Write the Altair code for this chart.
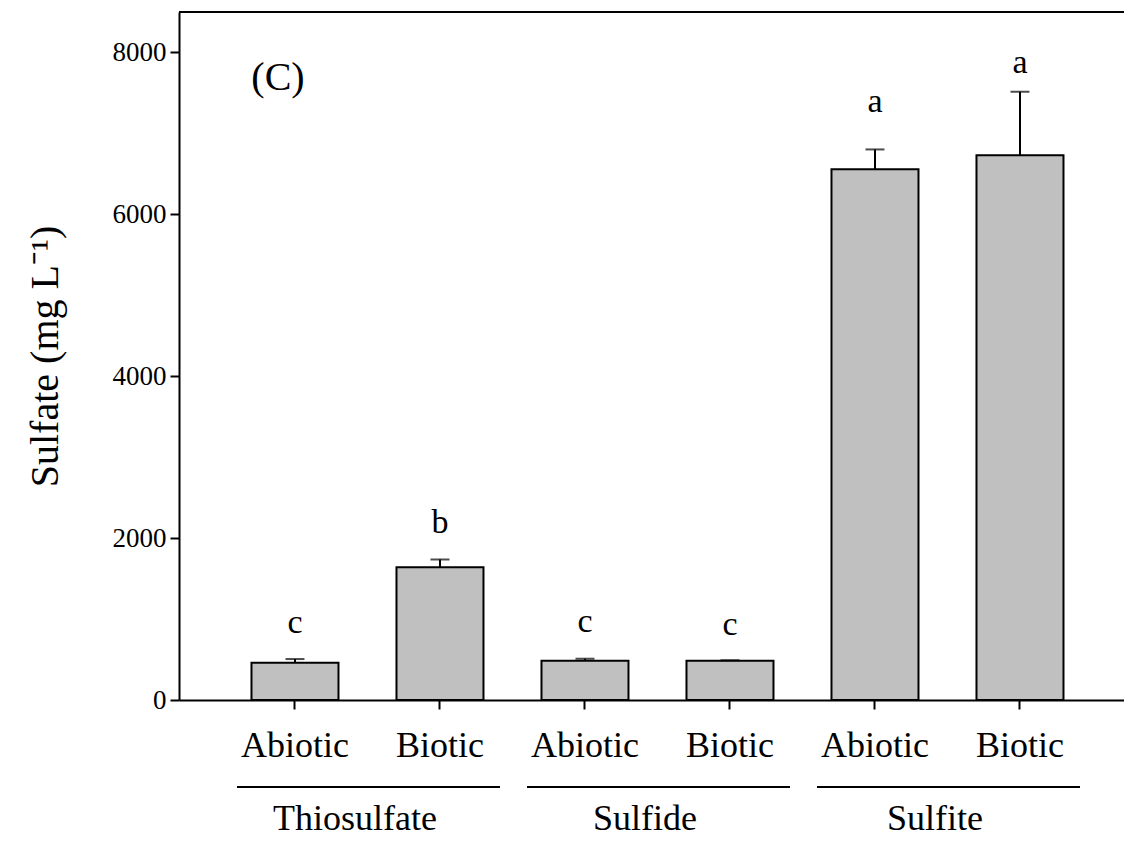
import altair as alt
import pandas as pd

# ---- data ----
groups = ["Thiosulfate", "Thiosulfate", "Sulfide", "Sulfide", "Sulfite", "Sulfite"]
treatments = ["Abiotic", "Biotic", "Abiotic", "Biotic", "Abiotic", "Biotic"]
means = [460, 1640, 485, 485, 6556, 6730]
errors = [46, 97, 25, 6, 246, 785]
letters = ["c", "b", "c", "c", "a", "a"]
letter_pos = [827, 2062, 840, 802, 7259, 7741]
group_names = ["Thiosulfate", "Sulfide", "Sulfite"]
y_ticks = [0, 2000, 4000, 6000, 8000]
panel_label = ["(C)"]

FONT = "Liberation Serif"
W, H = 945, 688

keys = [f"{g}|{t}" for g, t in zip(groups, treatments)]
df = pd.DataFrame({
    "key": keys, "group": groups, "treatment": treatments,
    "mean": means, "err": errors, "letter": letters, "letter_y": letter_pos,
})
df["top"] = df["mean"] + df["err"]

gdf = pd.DataFrame({
    "group": group_names,
    "k1": [f"{g}|Abiotic" for g in group_names],
    "k2": [f"{g}|Biotic" for g in group_names],
})

xscale = alt.Scale(domain=keys, paddingInner=0.4, paddingOuter=0.4586, align=0.545)
yscale = alt.Scale(domain=[0, 8500], nice=False)

xenc = alt.X("key:N", scale=xscale, sort=keys,
             axis=alt.Axis(title=None, labelExpr="split(datum.label,'|')[1]",
                           labelAngle=0, labelFontSize=36, labelFont=FONT,
                           labelColor="black", labelPadding=19, tickSize=9,
                           tickWidth=2, domainWidth=2, labelBaseline="top"))
yenc = alt.Y("mean:Q", scale=yscale,
             axis=alt.Axis(values=y_ticks, format="d", title="Sulfate (mg L\u207b\u00b9)",
                           titleFont=FONT, titleFontSize=40, titleFontWeight="normal",
                           titleColor="black", titleX=-134, titleY=H / 2,
                           titleAlign="center", titleBaseline="middle", titleAngle=-90,
                           labelFont=FONT, labelFontSize=27, labelColor="black",
                           labelPadding=4, tickSize=9, tickWidth=2, domainWidth=2,
                           grid=False))

base = alt.Chart(df)

bars = base.mark_bar(fill="#c0c0c0", stroke="black", strokeWidth=2).encode(x=xenc, y=yenc)

err_rule = base.mark_rule(color="black", strokeWidth=2).encode(
    x=alt.X("key:N", sort=keys), y=alt.Y("mean:Q"), y2="top:Q")

err_cap = base.mark_tick(color="black", thickness=2, size=19).encode(
    x=alt.X("key:N", sort=keys), y=alt.Y("top:Q"))

letter_text = base.mark_text(font=FONT, fontSize=34, color="black",
                             baseline="alphabetic", align="center").encode(
    x=alt.X("key:N", sort=keys), y=alt.Y("letter_y:Q"), text="letter:N")

group_rules = alt.Chart(gdf).mark_rule(color="black", strokeWidth=2,
                                       xOffset=-58, x2Offset=60).encode(
    x=alt.X("k1:N", sort=keys), x2="k2:N", y=alt.value(H + 87))

group_text = alt.Chart(gdf).mark_text(font=FONT, fontSize=36, color="black",
                                      baseline="alphabetic", align="center",
                                      dx=60).encode(
    x=alt.X("k1:N", sort=keys), y=alt.value(H + 130), text="group:N")

top_line = alt.Chart(gdf).mark_rule(color="black", strokeWidth=2).encode(
    x=alt.value(0), x2=alt.value(W), y=alt.value(0))

panel = alt.Chart(pd.DataFrame({"t": panel_label})).mark_text(
    font=FONT, fontSize=40, color="black", baseline="middle", align="center").encode(
    x=alt.value(99), y=alt.value(66), text="t:N")

chart = alt.layer(bars, err_rule, err_cap, letter_text, group_rules, group_text,
                  top_line, panel).properties(
    width=W, height=H,
    autosize=alt.AutoSizeParams(type="none"),
    padding={"left": 171, "top": 4, "right": 0, "bottom": 140},
    background="white",
).configure_view(stroke=None).configure_axis(
    domainColor="black", tickColor="black")

chart.save("out.html", embed_options={"renderer": "svg", "actions": False})
